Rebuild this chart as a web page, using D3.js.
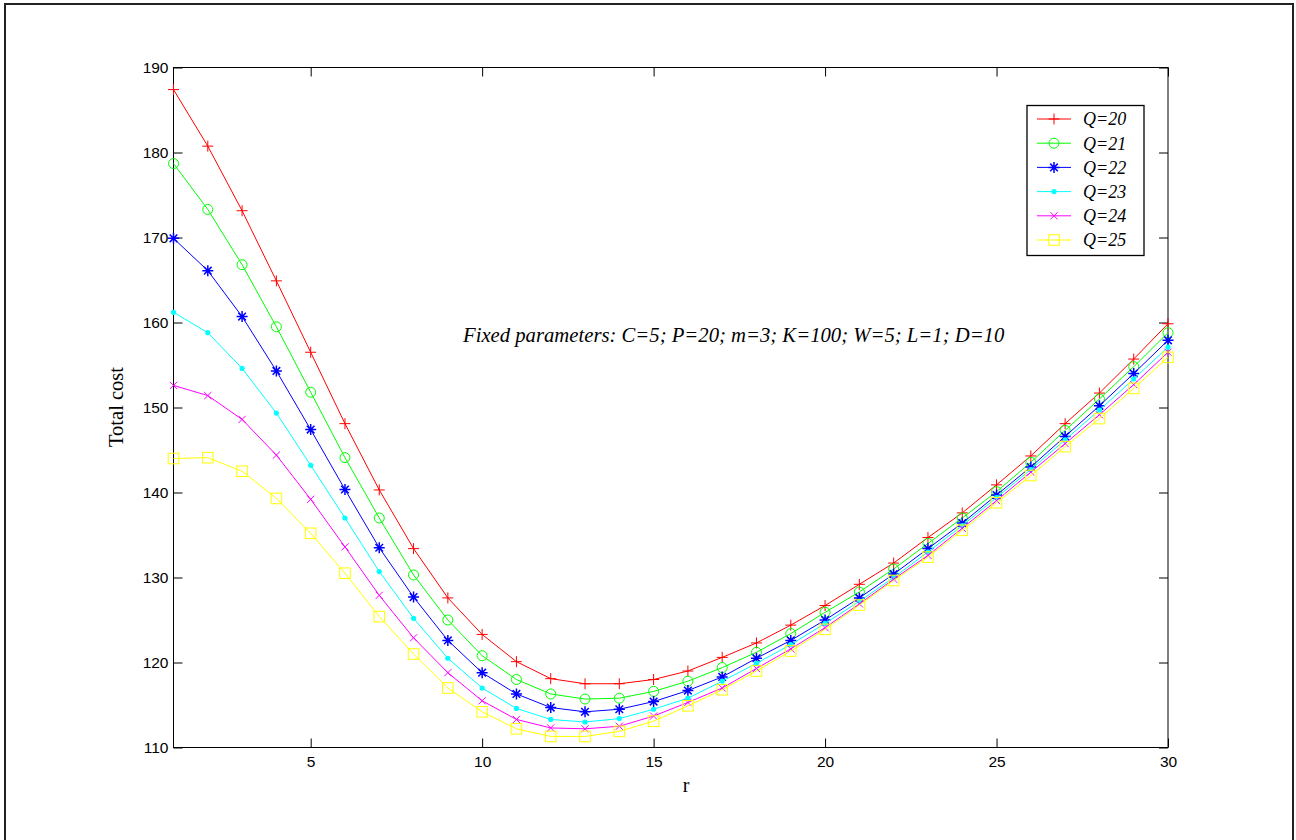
<!DOCTYPE html>
<html>
<head>
<meta charset="utf-8">
<script src="https://cdn.jsdelivr.net/npm/d3@7/dist/d3.min.js"></script>
<style>
  html, body { margin: 0; padding: 0; background: #fff; }
  svg { display: block; }
</style>
</head>
<body>
<svg id="chart" width="1296" height="840"></svg>
<script>
// ---- data ----
const rValues = d3.range(1, 31);
const seriesNames = ["Q=20", "Q=21", "Q=22", "Q=23", "Q=24", "Q=25"];
const q20 = [187.4, 180.75, 173.15, 164.9, 156.5, 148.1, 140.3, 133.4, 127.6, 123.3, 120.1, 118.1, 117.5, 117.5, 118.0, 119.0, 120.6, 122.3, 124.4, 126.7, 129.2, 131.7, 134.7, 137.6, 140.9, 144.3, 148.1, 151.7, 155.7, 159.85];
const q21 = [178.7, 173.3, 166.8, 159.5, 151.8, 144.1, 137.0, 130.3, 125.0, 120.8, 118.0, 116.3, 115.7, 115.8, 116.6, 117.8, 119.4, 121.2, 123.4, 125.9, 128.3, 131.0, 134.0, 137.0, 140.1, 143.55, 147.3, 151.0, 154.8, 158.8];
const q22 = [169.9, 166.1, 160.7, 154.3, 147.4, 140.35, 133.5, 127.7, 122.6, 118.8, 116.3, 114.7, 114.2, 114.5, 115.4, 116.7, 118.3, 120.5, 122.6, 125.0, 127.6, 130.4, 133.4, 136.4, 139.7, 143.0, 146.6, 150.2, 154.0, 157.9];
const q23 = [161.2, 158.8, 154.6, 149.35, 143.2, 137.0, 130.7, 125.2, 120.5, 117.0, 114.6, 113.3, 113.0, 113.4, 114.5, 115.8, 117.8, 119.9, 122.1, 124.6, 127.2, 130.0, 133.0, 136.1, 139.4, 142.7, 146.2, 149.7, 153.35, 157.1];
const q24 = [152.6, 151.4, 148.6, 144.4, 139.2, 133.6, 127.9, 122.9, 118.8, 115.5, 113.3, 112.3, 112.2, 112.5, 113.7, 115.3, 117.0, 119.3, 121.6, 124.1, 126.9, 129.8, 132.6, 135.8, 139.05, 142.4, 145.75, 149.15, 152.7, 156.5];
const q25 = [144.0, 144.1, 142.5, 139.3, 135.2, 130.5, 125.4, 121.0, 117.0, 114.2, 112.2, 111.3, 111.3, 111.9, 113.1, 114.9, 116.8, 119.0, 121.35, 123.9, 126.75, 129.65, 132.4, 135.55, 138.8, 142.0, 145.4, 148.7, 152.25, 155.9];
const xTicks = [5, 10, 15, 20, 25, 30];
const yTicks = [110, 120, 130, 140, 150, 160, 170, 180, 190];
const annotation = "Fixed parameters: C=5; P=20; m=3; K=100; W=5; L=1; D=10";
const xLabel = "r";
const yLabel = "Total cost";

const seriesValues = [q20, q21, q22, q23, q24, q25];
const colors = ["#ff0000", "#00ff00", "#0000ff", "#00ffff", "#ff00ff", "#ffff00"];
const markers = ["plus", "circle", "star", "dot", "cross", "square"];

// ---- layout ----
const svg = d3.select("#chart");
const L = 173.5, R = 1168, T = 67.5, B = 747.5;
const x = d3.scaleLinear().domain([1, 30]).range([L, R]);
const y = d3.scaleLinear().domain([110, 190]).range([B, T]);

const tickFont = "'Liberation Sans', Arial, Helvetica, sans-serif";
const serif = "'Liberation Serif', 'Times New Roman', Times, serif";

// outer figure frame
svg.append("rect").attr("x", 5).attr("y", 4).attr("width", 1288).attr("height", 845)
  .attr("fill", "none").attr("stroke", "#222").attr("stroke-width", 2);

// axes
function styleAxis(g, showText) {
  g.select(".domain").remove();
  g.selectAll(".tick line").attr("stroke", "#000").attr("stroke-width", 1);
  g.selectAll(".tick text").attr("fill", "#000").attr("font-family", tickFont).attr("font-size", 15.5);
  if (!showText) g.selectAll(".tick text").remove();
}
svg.append("g").attr("transform", `translate(0,${B})`)
  .call(d3.axisBottom(x).tickValues(xTicks).tickSizeInner(-9).tickSizeOuter(0).tickPadding(8))
  .call(g => styleAxis(g, true));
svg.append("g").attr("transform", `translate(0,${T})`)
  .call(d3.axisTop(x).tickValues(xTicks).tickSizeInner(-9).tickSizeOuter(0))
  .call(g => styleAxis(g, false));
svg.append("g").attr("transform", `translate(${L},0)`)
  .call(d3.axisLeft(y).tickValues(yTicks).tickSizeInner(-9).tickSizeOuter(0).tickPadding(5))
  .call(g => styleAxis(g, true));
svg.append("g").attr("transform", `translate(${R},0)`)
  .call(d3.axisRight(y).tickValues(yTicks).tickSizeInner(-9).tickSizeOuter(0))
  .call(g => styleAxis(g, false));

// box
svg.append("rect").attr("x", L).attr("y", T).attr("width", R - L).attr("height", B - T)
  .attr("fill", "none").attr("stroke", "#000").attr("stroke-width", 1);

// axis labels
svg.append("text").attr("x", 686).attr("y", 792).attr("text-anchor", "middle")
  .attr("font-family", serif).attr("font-size", 20).text(xLabel);
svg.append("text").attr("transform", "translate(123,407) rotate(-90)").attr("text-anchor", "middle")
  .attr("font-family", serif).attr("font-size", 20.5).text(yLabel);

// annotation
svg.append("text").attr("x", 463).attr("y", 342)
  .attr("font-family", serif).attr("font-style", "italic").attr("font-size", 20.7).text(annotation);

// marker drawing
function drawMarker(g, type, color) {
  const s = 5.5;
  if (type === "plus") {
    g.append("path").attr("d", `M${-s},0H${s}M0,${-s}V${s}`).attr("stroke", color).attr("fill", "none");
  } else if (type === "circle") {
    g.append("circle").attr("r", 5).attr("stroke", color).attr("fill", "none");
  } else if (type === "star") {
    const d = 3.8;
    g.append("path").attr("d", `M${-s},0H${s}M0,${-s}V${s}M${-d},${-d}L${d},${d}M${-d},${d}L${d},${-d}`)
      .attr("stroke", color).attr("fill", "none").attr("stroke-width", 1.5);
  } else if (type === "dot") {
    g.append("circle").attr("r", 2.6).attr("fill", color).attr("stroke", "none");
  } else if (type === "cross") {
    const d = 3.6;
    g.append("path").attr("d", `M${-d},${-d}L${d},${d}M${-d},${d}L${d},${-d}`)
      .attr("stroke", color).attr("fill", "none");
  } else if (type === "square") {
    g.append("rect").attr("x", -5.3).attr("y", -5.3).attr("width", 10.6).attr("height", 10.6)
      .attr("stroke", color).attr("fill", "none");
  }
}

// series
const line = d3.line().x((d, i) => x(rValues[i])).y(d => y(d));
seriesValues.forEach((vals, si) => {
  svg.append("path").attr("d", line(vals)).attr("fill", "none")
    .attr("stroke", colors[si]).attr("stroke-width", 1);
  const mg = svg.append("g");
  vals.forEach((v, i) => {
    const g = mg.append("g").attr("transform", `translate(${x(rValues[i])},${y(v)})`);
    drawMarker(g, markers[si], colors[si]);
  });
});

// legend
const lg = svg.append("g");
lg.append("rect").attr("x", 1027).attr("y", 105.5).attr("width", 117).attr("height", 150)
  .attr("fill", "#fff").attr("stroke", "#000").attr("stroke-width", 1.3);
seriesNames.forEach((name, i) => {
  const cy = 119 + i * 24.2;
  lg.append("line").attr("x1", 1037).attr("x2", 1071).attr("y1", cy).attr("y2", cy)
    .attr("stroke", colors[i]).attr("stroke-width", 1);
  const g = lg.append("g").attr("transform", `translate(1054,${cy})`);
  drawMarker(g, markers[i], colors[i]);
  lg.append("text").attr("x", 1083).attr("y", cy).attr("dy", "0.35em")
    .attr("font-family", serif).attr("font-style", "italic").attr("font-size", 18).text(name);
});
</script>
</body>
</html>
